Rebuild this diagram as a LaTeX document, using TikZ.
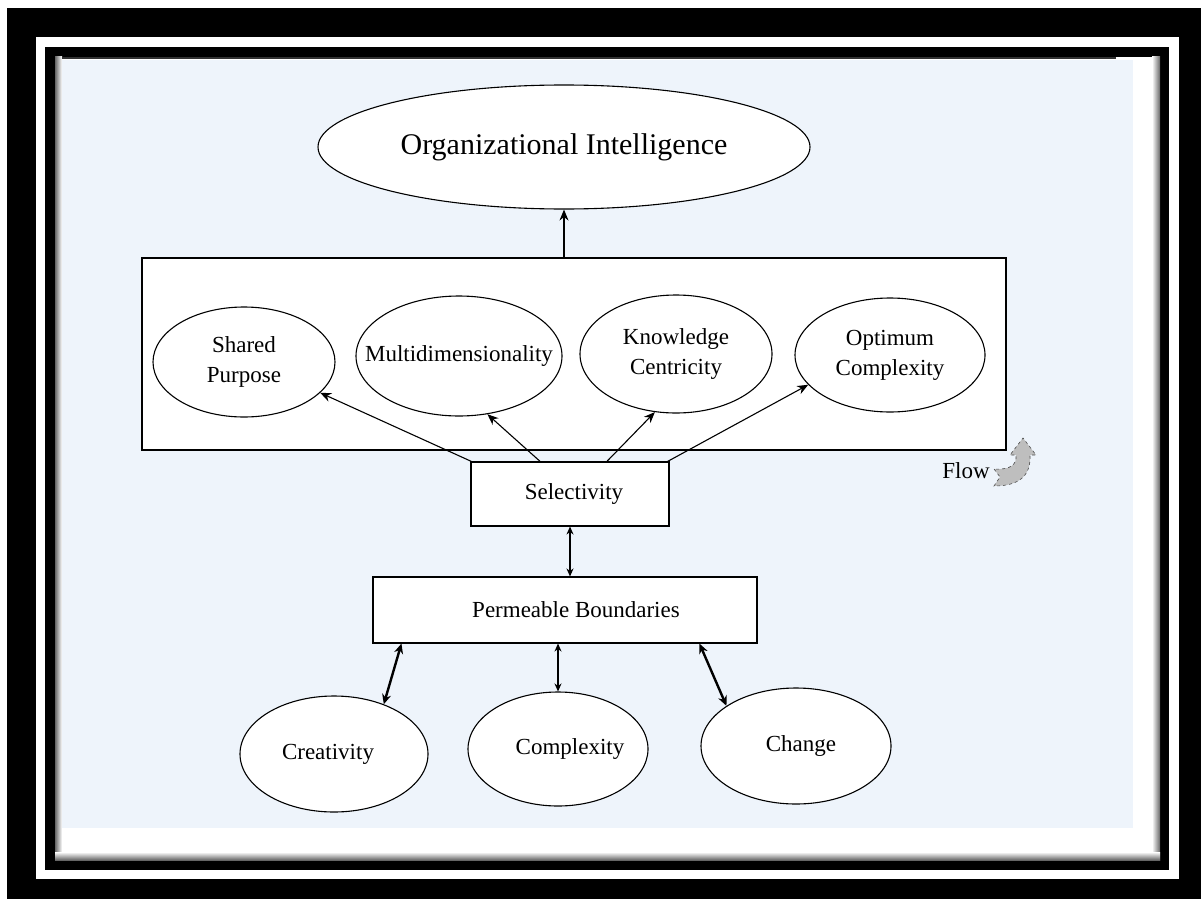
\documentclass[tikz,border=0pt]{standalone}
\usepackage{fontspec}
\setmainfont{Liberation Serif}
\usetikzlibrary{shapes.geometric,arrows.meta,calc}
\definecolor{panelblue}{HTML}{EEF4FB}
\definecolor{flowgray}{HTML}{BEBEBE}
\begin{document}
\begin{tikzpicture}[x=1pt,y=-1pt,
  oval/.style={draw,ellipse,line width=1.1pt,fill=white,inner sep=-30pt,align=center,font=\fontsize{23}{30}\selectfont},
  box/.style={draw,rectangle,line width=1.1pt,fill=white,inner sep=0pt,font=\fontsize{23}{28}\selectfont},
  arr/.style={-{Stealth[length=11pt,width=9pt]},line width=1.1pt},
  darr/.style={{Stealth[length=8pt,width=7pt]}-{Stealth[length=8pt,width=7pt]},line width=1.1pt},
  tdarr/.style={{Stealth[length=10pt,width=9pt]}-{Stealth[length=10pt,width=9pt]},line width=2.4pt}
]
\useasboundingbox (0,0) rectangle (1201,899);
% frames
\fill[white] (0,0) rectangle (1201,899);
\fill[black] (7,8) rectangle (1201,899);
\fill[white] (36,37) rectangle (1179,879);
\fill[black] (45,47) rectangle (1169,870);
\fill[white] (55,57) rectangle (1160,860);
\shade[left color=gray!80!black,right color=white] (55,57) rectangle (62,860);
\shade[left color=white,right color=gray!80!black] (1152,57) rectangle (1160,860);
\shade[top color=white,bottom color=gray!80!black] (55,852) rectangle (1160,860);
\fill[panelblue] (62,60) rectangle (1133,828);
\draw[line width=2pt,gray!40!black] (62,58) -- (1116,58);

% nodes
\node[oval,minimum width=492pt,minimum height=124pt,font=\fontsize{30}{34}\selectfont] (oi) at (564,147) {Organizational Intelligence};
\node[box,minimum width=864pt,minimum height=192pt] (grp) at (574,354) {};
\node[oval,minimum width=182pt,minimum height=110pt] (sp) at (244,362) {Shared\\Purpose};
\node[oval,minimum width=206pt,minimum height=120pt] (md) at (459,356) {Multidimensionality};
\node[oval,minimum width=192pt,minimum height=118pt] (kc) at (676,354) {Knowledge\\Centricity};
\node[oval,minimum width=190pt,minimum height=114pt] (oc) at (890,355) {Optimum\\Complexity};
\node[box,minimum width=198pt,minimum height=64pt] (sel) at (570,494) {\hspace*{8pt}Selectivity};
\node[box,minimum width=384pt,minimum height=66pt] (pb) at (565,610) {\hspace*{22pt}Permeable Boundaries};
\node[oval,minimum width=188pt,minimum height=116pt] (cr) at (334,754) {Creativity\hspace*{12pt}};
\node[oval,minimum width=180pt,minimum height=114pt] (cx) at (558,749) {\hspace*{24pt}Complexity};
\node[oval,minimum width=190pt,minimum height=116pt] (ch) at (796,746) {\hspace*{10pt}Change};
\node[font=\fontsize{23}{28}\selectfont] (flow) at (966,471) {Flow};

% connectors
\draw[arr] (grp.north -| oi.south) -- (oi.south);
\draw[arr] ($(sel.north west)+(1,0)$) -- (sp.-22);
\draw[arr] ($(sel.north west)!0.35!(sel.north east)$) -- (md.-64);
\draw[arr] ($(sel.north west)!0.685!(sel.north east)$) -- (kc.-110);
\draw[arr] ($(sel.north east)+(-2,0)$) -- (oc.-160);
\draw[darr] (sel.south) -- (sel.south |- pb.north);
\draw[tdarr] ($(pb.south west)+(29,0)$) -- (cr.45);
\draw[darr] (cx.north |- pb.south) -- (cx.north);
\draw[tdarr] ($(pb.south west)+(327,0)$) -- (ch.150);

% flow arrow
\filldraw[fill=flowgray,draw=gray!60!black,dashed,line width=0.6pt]
  (994,469) -- (1000,477) -- (994,486)
  .. controls (1020,486) and (1031,475) .. (1030,455)
  -- (1036,455) -- (1023,438) -- (1010,455) -- (1016,455)
  .. controls (1017,465) and (1010,470) .. cycle;
\end{tikzpicture}
\end{document}
